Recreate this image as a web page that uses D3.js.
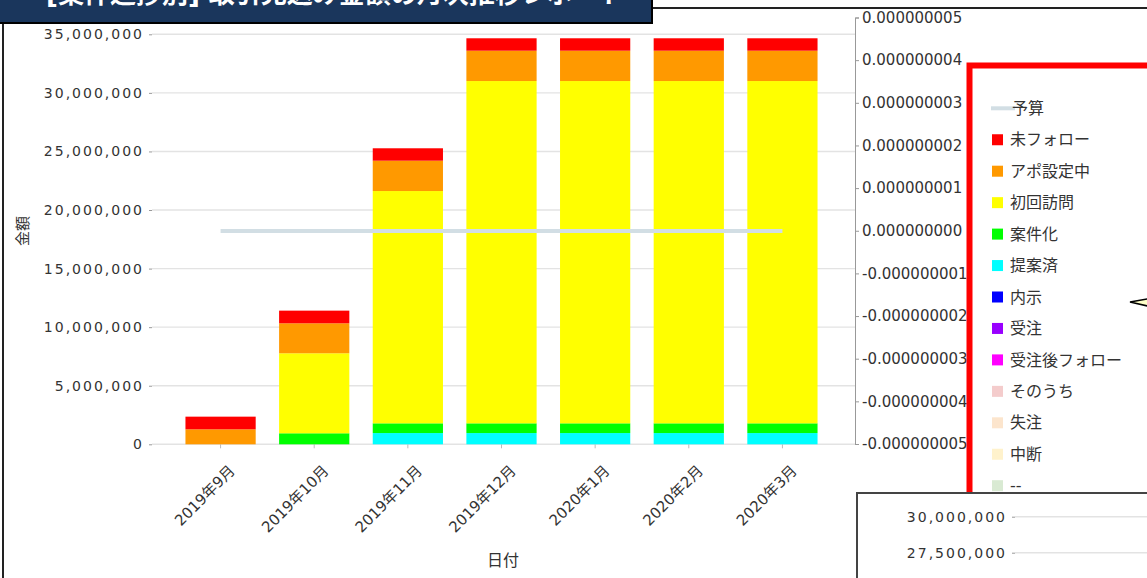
<!DOCTYPE html>
<html>
<head>
<meta charset="utf-8">
<script src="https://cdn.jsdelivr.net/npm/d3@7"></script>
<style>
body { margin: 0; background: #fff; }
svg { display: block; font-family: "DejaVu Sans", "Noto Sans CJK JP", sans-serif; }
</style>
</head>
<body>
<script>
"use strict";
const months = ["2019年9月", "2019年10月", "2019年11月", "2019年12月", "2020年1月", "2020年2月", "2020年3月"];
const statuses = ["未フォロー", "アポ設定中", "初回訪問", "案件化", "提案済", "内示", "受注", "受注後フォロー", "そのうち", "失注", "中断", "--"];
const colors = ["#ff0000", "#ff9900", "#ffff00", "#00ff00", "#00ffff", "#0000ff", "#9900ff", "#ff00ff", "#f4cccc", "#fce5cd", "#fff2cc", "#d9ead3"];
const miFollow = [1080000, 1080000, 1060000, 1060000, 1060000, 1060000, 1060000];
const apo = [1280000, 2560000, 2590000, 2590000, 2590000, 2590000, 2590000];
const shokai = [0, 6830000, 19830000, 29220000, 29220000, 29220000, 29220000];
const ankenka = [0, 940000, 830000, 830000, 830000, 830000, 830000];
const teianzumi = [0, 0, 960000, 960000, 960000, 960000, 960000];
const zeros = [0, 0, 0, 0, 0, 0, 0];
const budget = [18200000, 18200000, 18200000, 18200000, 18200000, 18200000, 18200000];
const leftTicks = [0, 5000000, 10000000, 15000000, 20000000, 25000000, 30000000, 35000000];
const rightTicks = [-5e-9, -4e-9, -3e-9, -2e-9, -1e-9, 0, 1e-9, 2e-9, 3e-9, 4e-9, 5e-9];
const insetTicks = [27500000, 30000000];
const title = "[案件進捗別] 取引見込み金額の月次推移レポート";

const FONT = "'DejaVu Sans', 'Noto Sans CJK JP', sans-serif";
const seriesValues = [miFollow, apo, shokai, ankenka, teianzumi, zeros, zeros, zeros, zeros, zeros, zeros, zeros];
const table = months.map((m, i) => {
	const row = {month: m};
	statuses.forEach((s, j) => row[s] = seriesValues[j][i]);
	return row;
});

const W = 1147, H = 578;
const svg = d3.select("body").append("svg").attr("width", W).attr("height", H);
svg.append("rect").attr("width", W).attr("height", H).attr("fill", "#fff");

// outer frame
svg.append("rect").attr("x", 3).attr("y", 8).attr("width", 1300).attr("height", 700)
	.attr("fill", "none").attr("stroke", "#222").attr("stroke-width", 2);

const x = d3.scaleBand().domain(months).range([148, 855]).paddingInner(0.25).paddingOuter(0.4);
const y = d3.scaleLinear().domain([0, 35000000]).range([444.3, 34.3]);
const yR = d3.scaleLinear().domain([-5e-9, 5e-9]).range([444, 17.5]);

// grid
svg.append("g").selectAll("line").data(leftTicks).enter().append("line")
	.attr("x1", 152).attr("x2", 855)
	.attr("y1", d => y(d)).attr("y2", d => y(d))
	.attr("stroke", "#e3e3e3").attr("stroke-width", 1.4);

const yAxis = svg.append("g").attr("transform", "translate(152,0)")
	.call(d3.axisLeft(y).tickValues(leftTicks).tickSize(3).tickFormat(d3.format(",")))
	.attr("font-family", FONT);
yAxis.select(".domain").remove();
yAxis.selectAll("line").attr("stroke", "#999");
yAxis.selectAll("text").attr("fill", "#333").attr("font-size", 14).attr("letter-spacing", 2).attr("dx", -2);

// x axis ticks
const xAxis = svg.append("g").attr("transform", "translate(0,444.3)")
	.call(d3.axisBottom(x).tickSize(4).tickSizeOuter(0))
	.attr("font-family", FONT);
xAxis.select(".domain").remove();
xAxis.selectAll("line").attr("stroke", "#bbb");
xAxis.selectAll("text").attr("fill", "#333").attr("font-size", 15)
	.attr("text-anchor", "end").attr("transform", "translate(3,15) rotate(-45)").attr("dy", "0.7em");

// stacked bars
const keys = statuses.slice().reverse();
const stack = d3.stack().keys(keys)(table);
svg.append("g").selectAll("g").data(stack).enter().append("g")
	.attr("fill", d => colors[statuses.indexOf(d.key)])
	.selectAll("rect").data(d => d).enter().append("rect")
	.attr("x", d => x(d.data.month))
	.attr("y", d => y(d[1]))
	.attr("width", x.bandwidth())
	.attr("height", d => y(d[0]) - y(d[1]));

// budget line
svg.append("path").datum(budget)
	.attr("d", d3.line().x((d, i) => x(months[i]) + x.bandwidth() / 2).y(d => y(d)))
	.attr("fill", "none").attr("stroke", "#d2dee4").attr("stroke-width", 4);

// right axis
const rAxis = svg.append("g").attr("transform", "translate(855,0)")
	.call(d3.axisRight(yR).tickValues(rightTicks).tickSize(4).tickFormat(d => d.toFixed(9)))
	.attr("font-family", FONT);
rAxis.selectAll("path, line").attr("stroke", "#999");
rAxis.selectAll("text").attr("fill", "#333").attr("font-size", 15).attr("x", 7);

// axis titles
svg.append("text").attr("transform", "translate(28,231) rotate(-90)").attr("text-anchor", "middle")
	.attr("font-size", 15).attr("fill", "#333").text("金額");
svg.append("text").attr("x", 503).attr("y", 566).attr("text-anchor", "middle")
	.attr("font-size", 16).attr("fill", "#333").text("日付");

// title banner
svg.append("rect").attr("x", -3).attr("y", -3).attr("width", 655).attr("height", 26)
	.attr("fill", "#1a365c").attr("stroke", "#000").attr("stroke-width", 2);
svg.append("text").attr("x", 46).attr("y", 3).attr("font-size", 26).attr("font-weight", "bold")
	.attr("fill", "#fff").text(title);

// legend
const lg = svg.append("g");
lg.append("rect").attr("x", 969.5).attr("y", 65.5).attr("width", 300).attr("height", 500)
	.attr("fill", "#fff").attr("stroke", "#ff0000").attr("stroke-width", 6);
const ly = i => 108.3 + i * 31.45;
lg.append("line").attr("x1", 991).attr("x2", 1015).attr("y1", ly(0)).attr("y2", ly(0))
	.attr("stroke", "#d2dee4").attr("stroke-width", 4);
lg.append("text").attr("x", 1012).attr("y", ly(0)).attr("dy", "0.35em").attr("font-size", 16)
	.attr("fill", "#333").text("予算");
statuses.forEach((s, i) => {
	lg.append("rect").attr("x", 992).attr("y", ly(i + 1) - 5.5).attr("width", 11).attr("height", 11)
		.attr("fill", colors[i]);
	lg.append("text").attr("x", 1010).attr("y", ly(i + 1)).attr("dy", "0.35em").attr("font-size", 16)
		.attr("fill", "#333").text(s);
});

// tooltip pointer
svg.append("path").attr("d", "M1130,302 L1152,298 L1152,307 Z")
	.attr("fill", "#ffffc8").attr("stroke", "#000").attr("stroke-width", 1.5);

// inset chart fragment
const inset = svg.append("g");
inset.append("rect").attr("x", 857).attr("y", 493).attr("width", 320).attr("height", 120)
	.attr("fill", "#fff").attr("stroke", "#444").attr("stroke-width", 2);
const yI = d3.scaleLinear().domain([27500000, 30000000]).range([552.7, 516.7]);
inset.append("g").selectAll("line").data(insetTicks).enter().append("line")
	.attr("x1", 1015).attr("x2", 1160).attr("y1", d => yI(d)).attr("y2", d => yI(d))
	.attr("stroke", "#e3e3e3").attr("stroke-width", 1.4);
const iAxis = inset.append("g").attr("transform", "translate(1015,0)")
	.call(d3.axisLeft(yI).tickValues(insetTicks).tickSize(3).tickFormat(d3.format(",")))
	.attr("font-family", FONT);
iAxis.select(".domain").remove();
iAxis.selectAll("line").attr("stroke", "#999");
iAxis.selectAll("text").attr("fill", "#333").attr("font-size", 14).attr("letter-spacing", 2).attr("dx", -2);
</script>
</body>
</html>
